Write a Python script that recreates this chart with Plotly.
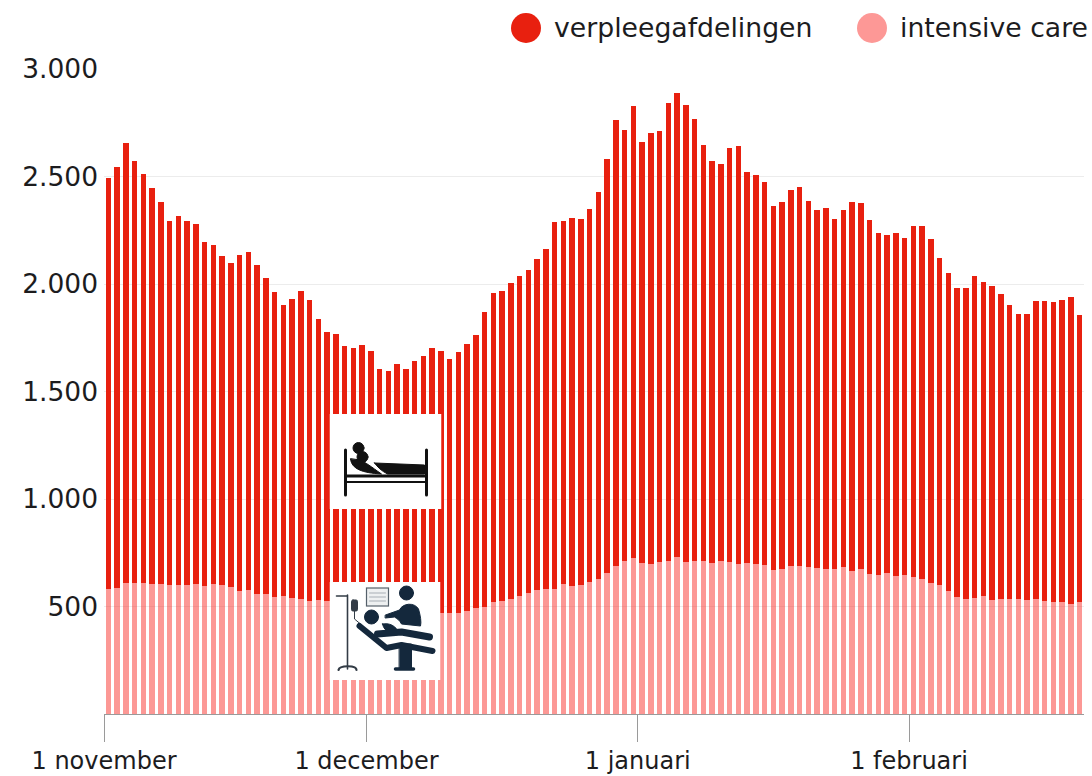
import base64
import plotly.graph_objects as go

intensive_care = [580,584,608,611,608,603,603,600,600,600,603,597,606,600,592,572,577,560,557,546,549,538,533,526,529,526,
530,525,525,520,520,515,515,505,500,495,490,480,472,
468,468,478,492,499,522,526,533,550,561,578,583,583,606,597,600,615,628,657,688,712,726,704,699,707,713,730,707,713,710,702,712,709,698,701,698,
692,670,676,690,687,684,679,674,673,682,665,674,650,645,657,640,645,639,628,611,602,572,546,535,541,550,532,535,534,537,530,534,526,519,521,510,522]
verpleegafdelingen = [1915,1962,2048,1961,1905,1842,1780,1695,1716,1693,1675,1598,1577,1529,1504,1561,1570,1528,1472,1415,1352,1392,1436,1398,1310,1249,
1236,1188,1179,1196,1167,1091,1080,1121,1103,1148,1174,1224,1215,
1183,1214,1241,1271,1372,1435,1440,1470,1486,1504,1537,1581,1705,1687,1710,1702,1734,1800,1923,2076,2004,2103,1958,2005,2005,2129,2157,2126,2056,1937,1872,1848,1922,1944,1818,1810,
1784,1693,1707,1746,1763,1702,1665,1681,1631,1664,1718,1704,1649,1591,1569,1596,1570,1629,1640,1600,1520,1481,1437,1445,1495,1461,1459,1418,1370,1323,1329,1385,1396,1397,1406,1431,1332]
days = list(range(len(intensive_care)))
month_positions = [-0.5, 29.5, 60.5, 91.5]
month_labels = ["1 november", "1 december", "1 januari", "1 februari"]
value_ticks = [500, 1000, 1500, 2000, 2500, 3000]
value_labels = ["500", "1.000", "1.500", "2.000", "2.500", "3.000"]

RED = "#E8200F"
PINK_BAR = "rgba(248,30,25,0.46)"
PINK = "#FD9896"
INK = "#1c1c1e"
FONT = "DejaVu Sans"
W, H = 1092, 776
L, R, T, B = 104, 8, 69, 62

BED_SVG = """<svg xmlns="http://www.w3.org/2000/svg" viewBox="0 0 112 95" width="112" height="95">
<rect width="112" height="95" fill="#fff"/>
<g fill="#111" stroke="#111" stroke-linecap="round">
<path d="M16 36V81M97 36V81" stroke-width="3" fill="none"/>
<path d="M17 62H96" stroke-width="3"/><path d="M17 68H96" stroke-width="2"/>
<circle cx="29" cy="34" r="5.5"/><circle cx="33" cy="43" r="5.5"/>
<path d="M21 45C22 55 33 59 52 60C42 53 36 48 30 46Z" stroke-width="1"/>
<path d="M45 49L95 51V60H58C52 57 48 53 45 49Z" stroke-width="1"/>
</g></svg>"""

ICU_SVG = """<svg xmlns="http://www.w3.org/2000/svg" viewBox="0 0 111 98" width="111" height="98">
<rect width="111" height="98" fill="#fff"/>
<g stroke="#333c46" fill="none" stroke-linecap="round">
<path d="M7 14H18M18 13V87" stroke-width="1.6"/>
<path d="M9 88C10 83 27 83 27 88" stroke-width="2.2"/>
<path d="M25 28V37L31 42" stroke-width="1"/>
<rect x="22" y="18" width="6" height="11" rx="1.5" fill="#333c46"/>
<rect x="37" y="6" width="22" height="18" fill="#eef0f1" stroke="#55606a" stroke-width="1.2"/>
<path d="M40 11H56M40 15H56M40 19H56" stroke-width="0.7" stroke="#8a939b"/>
</g>
<g fill="#14283c" stroke="#14283c" stroke-linecap="round" stroke-linejoin="round">
<circle cx="77" cy="11" r="7"/>
<circle cx="42" cy="35" r="7"/>
<path d="M56 33L70 28C73 21 85 20 89 27C91 34 92 40 91 44L72 42C70 38 68 37 65 35L56 36Z" stroke-width="1"/>
<path d="M53 42C60 41 64 43 68 48L60 50C56 49 54 46 53 42Z" stroke-width="1"/>
<path d="M30 44L57 66L72 63L103 69" fill="none" stroke-width="6"/>
<path d="M48 52L72 50L100 55" fill="none" stroke-width="7"/>
<path d="M70 62H82V86H70Z" stroke-width="1"/>
<path d="M66 87H84" fill="none" stroke-width="3.5"/>
</g></svg>"""


def svg_uri(svg):
    return "data:image/svg+xml;base64," + base64.b64encode(svg.encode()).decode()


PLOT_W = W - L - R
PLOT_H = H - T - B


def px_x(v):
    return (v - L) / PLOT_W


def px_y(v):
    return 1 - (v - T) / PLOT_H


fig = go.Figure()
fig.add_bar(x=days, y=intensive_care, name="intensive care", marker=dict(color=PINK_BAR, line_width=0))
fig.add_bar(x=days, y=verpleegafdelingen, name="verpleegafdelingen", marker=dict(color=RED, line_width=0))

legend_entries = [("verpleegafdelingen", RED, 526, 553), ("intensive care", PINK, 872, 899)]
shapes, annotations = [], []
for label, colour, cx, tx in legend_entries:
    shapes.append(dict(type="circle", xref="paper", yref="paper", x0=px_x(cx - 15), x1=px_x(cx + 15),
                       y0=px_y(43), y1=px_y(13), fillcolor=colour, line_width=0))
    annotations.append(dict(text=label, xref="paper", yref="paper", x=px_x(tx), y=px_y(28), xanchor="left",
                            yanchor="middle", showarrow=False, borderpad=0, font=dict(family=FONT, size=26.7, color=INK)))

images = [
    dict(source=svg_uri(BED_SVG), xref="paper", yref="paper", x=px_x(329.5), y=px_y(414), sizex=112 / PLOT_W, sizey=95 / PLOT_H,
         xanchor="left", yanchor="top", sizing="stretch", layer="above"),
    dict(source=svg_uri(ICU_SVG), xref="paper", yref="paper", x=px_x(329.5), y=px_y(582), sizex=111 / PLOT_W, sizey=98 / PLOT_H,
         xanchor="left", yanchor="top", sizing="stretch", layer="above"),
]

fig.update_layout(
    width=W, height=H, autosize=False, barmode="stack", bargap=0.37, showlegend=False,
    margin=dict(l=L, r=R, t=T, b=B, pad=0, autoexpand=False), paper_bgcolor="white", plot_bgcolor="white",
    font=dict(family=FONT, color=INK), shapes=shapes, annotations=annotations, images=images,
    xaxis=dict(range=[-0.5, 111.5], tickmode="array", tickvals=month_positions, ticktext=month_labels,
               ticks="outside", ticklen=27, tickwidth=1, tickcolor="#9a9a9a", showgrid=False, zeroline=False,
               showline=True, linecolor="#9a9a9a", linewidth=1, tickfont=dict(family=FONT, size=24, color=INK),
               ticklabelstandoff=-2, automargin=False, fixedrange=True),
    yaxis=dict(range=[0, 3000], tickmode="array", tickvals=value_ticks, ticktext=value_labels, ticks="",
               showgrid=True, gridcolor="#ececec", gridwidth=1, zeroline=False, showline=False,
               ticklabelstandoff=5, tickfont=dict(family=FONT, size=26.5, color=INK), automargin=False, fixedrange=True),
)

fig.write_html("out.html", config=dict(displayModeBar=False),
               post_script="document.body.style.margin='0';document.body.style.overflow='hidden';")
